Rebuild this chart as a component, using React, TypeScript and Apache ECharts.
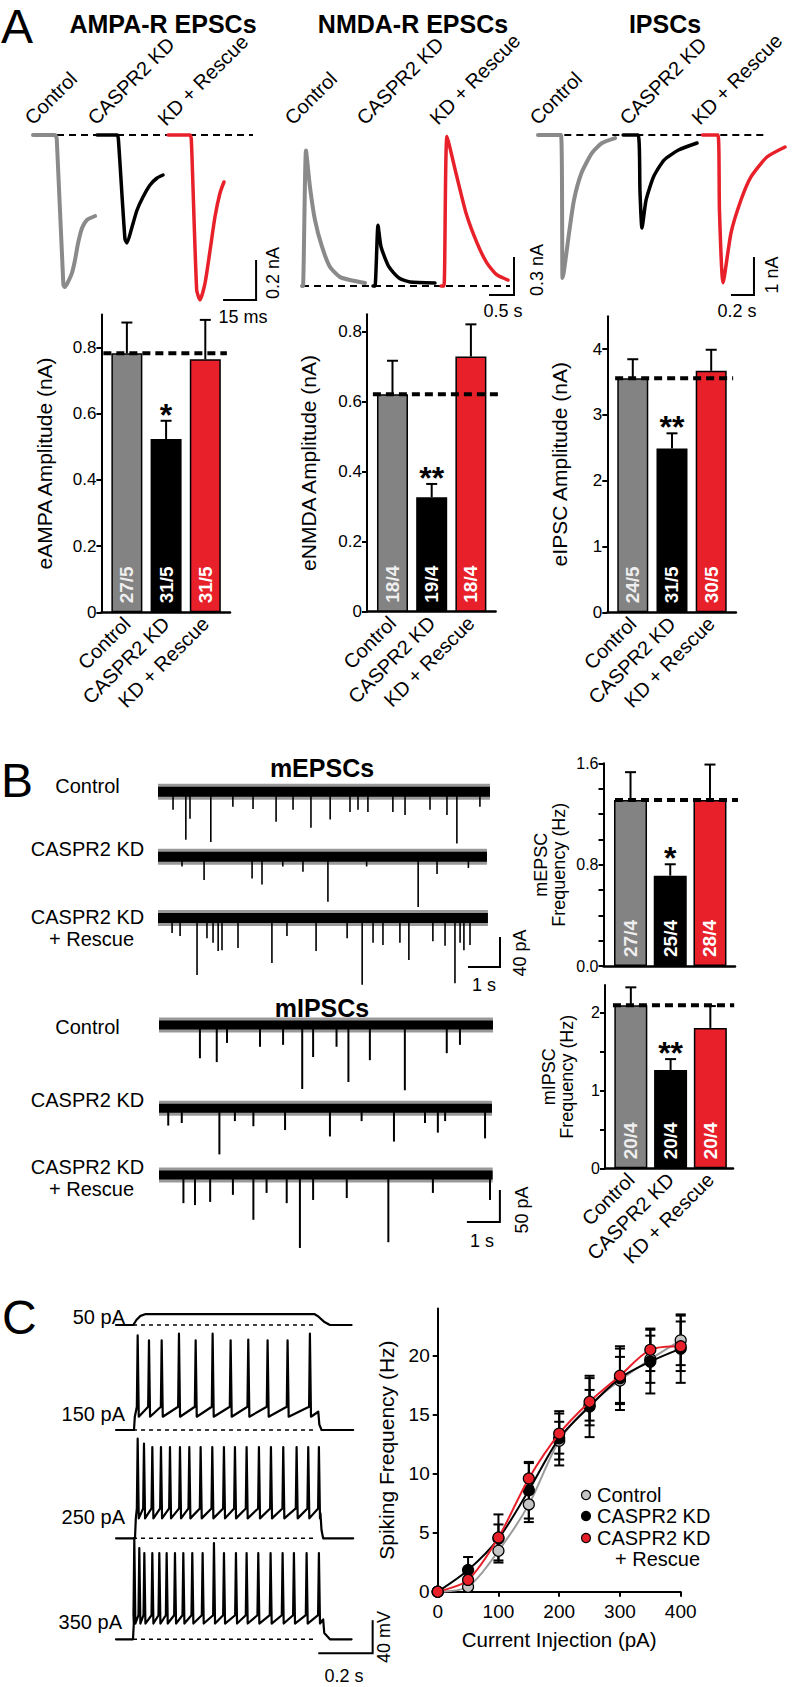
import React, { useEffect, useRef } from "react";
import * as echarts from "echarts";

const FONT = "'Liberation Sans', Arial, Helvetica, sans-serif";
const GRAY = "#838383";
const RED = "#e8202a";
const BLACK = "#000000";
const GROUP_COLORS = [GRAY, BLACK, RED];
const BAR_LABEL_COLORS = ["#eeeeee", "#ffffff", "#ffffff"];

const groups = ["Control", "CASPR2 KD", "KD + Rescue"];

// ---------- Panel A bar data ----------
const eampaMean = [0.783, 0.524, 0.765];
const eampaSem = [0.093, 0.055, 0.119];
const eampaN = ["27/5", "31/5", "31/5"];
const eampaSig = ["", "*", ""];

const enmdaMean = [0.621, 0.327, 0.729];
const enmdaSem = [0.096, 0.038, 0.092];
const enmdaN = ["18/4", "19/4", "18/4"];
const enmdaSig = ["", "**", ""];

const eipscMean = [3.556, 2.49, 3.67];
const eipscSem = [0.29, 0.23, 0.32];
const eipscN = ["24/5", "31/5", "30/5"];
const eipscSig = ["", "**", ""];

// ---------- Panel B bar data ----------
const mepscMean = [1.31, 0.713, 1.31];
const mepscSem = [0.22, 0.09, 0.28];
const mepscN = ["27/4", "25/4", "28/4"];
const mepscSig = ["", "*", ""];

const mipscMean = [2.09, 1.26, 1.8];
const mipscSem = [0.23, 0.14, 0.28];
const mipscN = ["20/4", "20/4", "20/4"];
const mipscSig = ["", "**", ""];

// ---------- Panel A example traces ----------
// AMPA: [time ms, current nA]
const ampaControl = [[0, 0], [10, 0], [10.8, -0.02], [13.8, -0.75], [14.5, -0.76], [15.9, -0.735], [17.7, -0.69], [19.1, -0.625], [20.5, -0.54], [22.3, -0.465], [24.5, -0.425], [28.2, -0.405]];
const ampaKD = [[29.1, 0], [38.2, 0], [38.8, -0.02], [41.8, -0.52], [42.7, -0.54], [45, -0.46], [47.3, -0.375], [50, -0.31], [53.2, -0.25], [56.4, -0.215], [59.1, -0.2]];
const ampaRescue = [[61.4, 0], [71.4, 0], [72, -0.03], [74.4, -0.775], [75.9, -0.825], [78.2, -0.74], [80.5, -0.575], [82.7, -0.41], [85, -0.29], [86.8, -0.235]];
// NMDA: [time s, current nA (outward)]
const nmdaControl = [[0, 0], [0.02, 0], [0.08, 1.07], [0.16, 0.78], [0.26, 0.52], [0.4, 0.31], [0.56, 0.15], [0.76, 0.071], [0.96, 0.047], [1.26, 0.024]];
const nmdaKD = [[1.42, 0], [1.46, 0], [1.52, 0.48], [1.58, 0.31], [1.74, 0.15], [1.94, 0.063], [2.16, 0.032], [2.66, 0.024]];
const nmdaRescue = [[2.78, 0], [2.84, 0], [2.9, 1.18], [3.08, 0.89], [3.28, 0.576], [3.5, 0.34], [3.7, 0.18], [3.9, 0.087], [4.12, 0.047]];
// IPSC: [time s, current nA]
const ipscControl = [[0, 0], [0.2, 0], [0.213, -3.76], [0.225, -3.6], [0.27, -2.58], [0.313, -1.71], [0.378, -1.0], [0.47, -0.47], [0.557, -0.21], [0.67, -0.08]];
const ipscKD = [[0.74, 0], [0.87, 0], [0.887, -1.5], [0.904, -2.45], [0.94, -1.71], [1.005, -1.1], [1.096, -0.66], [1.226, -0.39], [1.383, -0.21]];
const ipscRescue = [[1.43, 0], [1.565, 0], [1.578, -2], [1.609, -3.89], [1.678, -2.58], [1.765, -1.71], [1.852, -1.1], [1.991, -0.58], [2.148, -0.316]];

// ---------- Panel B miniature events: [time s, amplitude pA] ----------
const mepscCtlEvents = [[0.47, 24], [0.87, 64], [1.0, 36], [1.65, 67], [2.34, 20], [2.97, 23], [3.69, 40], [4.22, 24], [4.78, 48], [5.38, 37], [6.0, 27], [6.25, 24], [6.56, 27], [7.34, 27], [7.72, 31], [8.5, 24], [9.03, 31], [9.34, 69], [10.06, 20]];
const mepscKdEvents = [[0.75, 13], [1.44, 31], [2.94, 29], [3.25, 37], [3.9, 13], [4.53, 20], [5.31, 60], [6.52, 13], [8.13, 67], [8.72, 23], [9.7, 15]];
const mepscResEvents = [[0.44, 20], [0.69, 24], [1.22, 76], [1.53, 27], [1.72, 33], [1.88, 44], [2.0, 43], [2.5, 40], [3.56, 60], [4.03, 24], [4.94, 44], [5.91, 27], [6.38, 89], [6.72, 33], [7.03, 36], [7.56, 33], [7.84, 56], [8.59, 31], [8.97, 37], [9.28, 87], [9.44, 33], [9.56, 43], [9.75, 36]];
const mepscDur = [10.375, 10.28, 10.31];

const mipscCtlEvents = [[1.24, 52], [1.75, 58], [2.06, 28], [3.06, 34], [3.76, 31], [4.34, 100], [4.67, 50], [5.38, 34], [5.74, 89], [6.39, 55], [7.45, 102], [8.72, 44], [9.12, 31]];
const mipscKdEvents = [[0.28, 27], [0.69, 23], [1.83, 72], [2.3, 20], [2.86, 28], [3.82, 34], [5.18, 44], [6.14, 20], [7.12, 52], [8.06, 23], [8.45, 38], [8.67, 20], [9.88, 47]];
const mipscResEvents = [[0.74, 44], [1.09, 47], [1.55, 42], [2.24, 31], [2.86, 70], [3.26, 28], [3.87, 44], [4.27, 114], [4.67, 39], [5.69, 36], [6.95, 105], [8.3, 28], [10.03, 39]];
const mipscDur = [10.12, 10.09, 10.11];

// ---------- Panel C firing ----------
const currents = [0, 50, 100, 150, 200, 250, 300, 350, 400];
const ctlRate = [0, 0.42, 3.47, 7.4, 12.8, 15.8, 17.9, 19.7, 21.3];
const kdRate = [0, 1.84, 4.5, 8.6, 13.0, 15.7, 18.1, 19.5, 20.6];
const resRate = [0, 1.0, 4.6, 9.6, 13.4, 16.1, 18.3, 20.5, 20.8];
const ctlRateSem = [0, 0.4, 1.0, 1.5, 1.6, 1.3, 2.0, 2.0, 2.1];
const kdRateSem = [0, 1.1, 1.2, 2.4, 2.3, 2.6, 2.7, 2.7, 2.9];
const resRateSem = [0, 0.6, 1.95, 1.3, 1.7, 2.0, 2.3, 1.8, 2.1];

// Example voltage traces: time s, mV relative to rest
const ap50 = [[0, 0], [0.0636, 0], [0.075, 6], [0.09, 11], [0.107, 13], [0.731, 13], [0.745, 10], [0.765, 4], [0.787, 0], [0.8665, 0]];
const ap150 = { on: 0.0662, off: 0.744, back: 0.756, end: 0.8725, trough: 16, thr: 28,
  times: [0.0797, 0.1213, 0.168, 0.2316, 0.293, 0.3554, 0.4216, 0.4865, 0.5576, 0.6311, 0.7132],
  peaks: [114, 108, 108, 116, 108, 116, 108, 109, 108, 108, 116] };
const ap250 = { on: 0.0699, off: 0.752, back: 0.762, end: 0.8725, trough: 24, thr: 36,
  times: [0.0797, 0.1029, 0.1336, 0.1654, 0.1985, 0.2353, 0.2696, 0.3113, 0.3542, 0.397, 0.4375, 0.4804, 0.5257, 0.5699, 0.6152, 0.6643, 0.7071, 0.7463],
  peaks: [120, 114, 110, 110, 110, 110, 110, 110, 110, 110, 110, 110, 110, 110, 110, 110, 110, 110] };
const ap350 = { on: 0.0625, off: 0.762, back: 0.787, end: 0.8665, trough: 19, thr: 29,
  times: [0.0673, 0.0857, 0.1042, 0.1336, 0.1593, 0.1863, 0.2169, 0.2476, 0.2806, 0.3186, 0.3603, 0.3971, 0.4412, 0.4804, 0.5233, 0.5686, 0.6128, 0.6544, 0.7011, 0.7463],
  peaks: [122, 110, 104, 104, 104, 104, 104, 104, 104, 104, 116, 104, 104, 104, 104, 104, 104, 104, 104, 104] };

function spikeTrain(c: any) {
  const pts: number[][] = [[0, 0], [c.on, 0], [c.on + 0.003, c.trough]];
  c.times.forEach((t: number, i: number) => {
    pts.push([t - 0.003, c.thr]);
    pts.push([t, c.peaks[i]]);
    pts.push([t + 0.004, c.trough]);
  });
  pts.push([c.off, (c.thr + c.trough) / 2]);
  pts.push([c.off + 0.004, c.trough * 0.4]);
  pts.push([c.back, 0]);
  pts.push([c.end, 0]);
  return pts;
}

function buildOption() {
  const o: any = {
    animation: false,
    backgroundColor: "#ffffff",
    textStyle: { fontFamily: FONT },
    grid: [], xAxis: [], yAxis: [], series: [],
    graphic: { elements: [] as any[] },
  };

  const addTraceGrid = (left: number, top: number, width: number, height: number, xmin: number, xmax: number, ymin: number, ymax: number) => {
    const i = o.grid.length;
    o.grid.push({ left, top, width, height, containLabel: false, outerBoundsMode: "none" });
    o.xAxis.push({ gridIndex: i, type: "value", min: xmin, max: xmax, show: false });
    o.yAxis.push({ gridIndex: i, type: "value", min: ymin, max: ymax, show: false });
    return i;
  };

  const line = (gi: number, data: number[][], color: string, width: number, extra: any = {}) => {
    o.series.push({
      type: "line", xAxisIndex: gi, yAxisIndex: gi, data, symbol: "none", silent: true,
      lineStyle: { color, width, cap: "round", join: "round" }, clip: false, z: 3, ...extra,
    });
  };
  const dashed = (gi: number, data: number[][], width: number, dash: number[]) => {
    o.series.push({
      type: "line", xAxisIndex: gi, yAxisIndex: gi, data, symbol: "none", silent: true,
      lineStyle: { color: BLACK, width, type: dash }, clip: false, z: 2,
    });
  };
  const scaleBar = (gi: number, x0: number, y0: number, dx: number, dy: number) => {
    line(gi, [[x0, y0], [x0 + dx, y0], [x0 + dx, y0 + dy]], BLACK, 2, { lineStyle: { color: BLACK, width: 2, cap: "butt", join: "miter" } });
  };
  const txt = (text: string, x: number, y: number, opt: any = {}) => {
    const align = opt.align || "center";
    const va = opt.va || "middle";
    o.graphic.elements.push({
      type: "text", x, y, rotation: opt.rot || 0, silent: true, z: 10,
      style: {
        text, fill: opt.color || BLACK, fontSize: opt.size || 20, fontWeight: opt.weight || "normal",
        fontFamily: FONT, align, verticalAlign: va, textAlign: align, textVerticalAlign: va,
      },
    });
  };

  // ---------------- Panel A traces ----------------
  const gA1 = addTraceGrid(33, 125, 231, 190, 0, 105, -0.9, 0.05);
  dashed(gA1, [[0, 0], [100, 0]], 2, [7, 5]);
  line(gA1, ampaControl, "#8a8a8a", 4, { smooth: 0.2 });
  line(gA1, ampaKD, BLACK, 3.5, { smooth: 0.2 });
  line(gA1, ampaRescue, RED, 3.5, { smooth: 0.2 });
  scaleBar(gA1, 86.4, -0.825, 15, 0.2);

  const gA2 = addTraceGrid(302, 121.3, 220, 183.7, 0, 4.4, -0.15, 1.3);
  dashed(gA2, [[0, 0], [4.16, 0]], 2, [7, 5]);
  line(gA2, nmdaControl, "#8a8a8a", 4, { smooth: 0.2 });
  line(gA2, nmdaKD, BLACK, 3.5, { smooth: 0.2 });
  line(gA2, nmdaRescue, RED, 3.5, { smooth: 0.2 });
  scaleBar(gA2, 3.74, -0.071, 0.5, 0.3);

  const gA3 = addTraceGrid(538, 123.6, 264.5, 182.4, 0, 2.3, -4.5, 0.3);
  dashed(gA3, [[0.02, 0], [1.96, 0]], 2, [7, 5]);
  line(gA3, ipscControl, "#8a8a8a", 4, { smooth: 0.2 });
  line(gA3, ipscKD, BLACK, 3.5, { smooth: 0.2 });
  line(gA3, ipscRescue, RED, 3.5, { smooth: 0.2 });
  scaleBar(gA3, 1.678, -4.21, 0.2, 1);

  // ---------------- Bar charts ----------------
  const addBarChart = (c: any) => {
    const gi = o.grid.length;
    o.grid.push({ left: c.left, top: c.top, width: c.width, height: c.height, containLabel: false, outerBoundsMode: "none" });
    o.xAxis.push({
      gridIndex: gi, type: "value", min: c.xmin, max: c.xmax,
      axisLine: { show: true, onZero: false, lineStyle: { color: BLACK, width: 2.5 } },
      axisTick: { show: false }, splitLine: { show: false },
      axisLabel: c.showCats ? {
        show: true, customValues: [0, 1, 2], formatter: (v: number) => groups[Math.round(v)] || "",
        rotate: 45, fontSize: 20, color: BLACK, fontFamily: FONT, margin: 8,
      } : { show: false },
    });
    o.yAxis.push({
      gridIndex: gi, type: "value", min: 0, max: c.ymax, interval: c.step,
      axisLine: { show: true, onZero: false, lineStyle: { color: BLACK, width: 2 } },
      axisTick: { show: true, inside: false, length: 5, lineStyle: { color: BLACK, width: 2 }, customValues: c.ticks },
      axisLabel: { show: true, customValues: c.labels, formatter: c.fmt, fontSize: c.tickSize, color: BLACK, fontFamily: FONT, margin: 5 },
      splitLine: { show: false },
      name: c.name, nameLocation: "middle", nameGap: c.nameGap,
      nameTextStyle: { fontSize: c.nameSize, color: BLACK, fontFamily: FONT, lineHeight: c.nameSize },
    });
    o.series.push({
      type: "bar", xAxisIndex: gi, yAxisIndex: gi, barWidth: c.barWidth, silent: true, z: 2,
      data: c.means.map((m: number, i: number) => ({
        value: [i, m],
        itemStyle: { color: GROUP_COLORS[i], borderColor: BLACK, borderWidth: 1.5 },
        label: { color: BAR_LABEL_COLORS[i] },
      })),
      label: {
        show: true, position: "insideBottom", rotate: 90, align: "left", verticalAlign: "middle", distance: 9,
        formatter: (p: any) => c.counts[p.dataIndex], fontSize: 19, fontWeight: "bold", fontFamily: FONT, color: "#fff",
      },
    });
    const sigs = c.sig;
    o.series.push({
      type: "custom", xAxisIndex: gi, yAxisIndex: gi, silent: true, z: 4,
      data: c.means.map((m: number, i: number) => [i, m, c.sems[i]]),
      renderItem: (params: any, api: any) => {
        const x = api.value(0), m = api.value(1), s = api.value(2);
        const p0 = api.coord([x, m]);
        const p1 = api.coord([x, m + s]);
        const children: any[] = [
          { type: "line", shape: { x1: p0[0], y1: p0[1], x2: p1[0], y2: p1[1] }, style: { stroke: BLACK, lineWidth: 2 } },
          { type: "line", shape: { x1: p1[0] - 5.5, y1: p1[1], x2: p1[0] + 5.5, y2: p1[1] }, style: { stroke: BLACK, lineWidth: 2 } },
        ];
        const sg = sigs[params.dataIndex];
        if (sg) {
          children.push({
            type: "text", x: p1[0], y: p1[1] - 6,
            style: { text: sg, fontSize: 32, fontWeight: "bold", fontFamily: FONT, fill: BLACK, align: "center", verticalAlign: "middle", textAlign: "center", textVerticalAlign: "middle" },
          });
        }
        return { type: "group", children };
      },
    });
    o.series.push({
      type: "line", xAxisIndex: gi, yAxisIndex: gi, symbol: "none", silent: true, clip: false, z: 5,
      data: [[c.dash[0], c.means[0]], [c.dash[1], c.means[0]]],
      lineStyle: { color: BLACK, width: 4, type: [8, 5] },
    });
  };

  const fmt1 = (v: number) => (v === 0 ? "0" : v.toFixed(1));
  addBarChart({ left: 101.4, top: 314.6, width: 128.6, height: 297.7, xmin: -0.65, xmax: 2.63, ymax: 0.9, step: 0.2,
    ticks: [0, 0.2, 0.4, 0.6, 0.8], labels: [0, 0.2, 0.4, 0.6, 0.8], fmt: fmt1, tickSize: 17,
    name: "eAMPA Amplitude (nA)", nameGap: 46, nameSize: 21, barWidth: 31, showCats: true,
    means: eampaMean, sems: eampaSem, counts: eampaN, sig: eampaSig, dash: [-0.6, 2.55] });
  addBarChart({ left: 367, top: 314.2, width: 128.6, height: 297.5, xmin: -0.65, xmax: 2.63, ymax: 0.85, step: 0.2,
    ticks: [0, 0.2, 0.4, 0.6, 0.8], labels: [0, 0.2, 0.4, 0.6, 0.8], fmt: fmt1, tickSize: 17,
    name: "eNMDA Amplitude (nA)", nameGap: 48, nameSize: 21, barWidth: 31, showCats: true,
    means: enmdaMean, sems: enmdaSem, counts: enmdaN, sig: enmdaSig, dash: [-0.5, 2.75] });
  addBarChart({ left: 607.3, top: 316.2, width: 128.6, height: 296.1, xmin: -0.65, xmax: 2.63, ymax: 4.5, step: 1,
    ticks: [0, 1, 2, 3, 4], labels: [0, 1, 2, 3, 4], fmt: (v: number) => String(v), tickSize: 17,
    name: "eIPSC Amplitude (nA)", nameGap: 37, nameSize: 21, barWidth: 31, showCats: true,
    means: eipscMean, sems: eipscSem, counts: eipscN, sig: eipscSig, dash: [-0.45, 2.56] });
  addBarChart({ left: 603.5, top: 763.3, width: 131.5, height: 202.7, xmin: -0.68, xmax: 2.63, ymax: 1.6, step: 0.2,
    ticks: [0, 0.2, 0.4, 0.6, 0.8, 1.0, 1.2, 1.4, 1.6], labels: [0, 0.8, 1.6], fmt: (v: number) => v.toFixed(1), tickSize: 16,
    name: "mEPSC\nFrequency (Hz)", nameGap: 36, nameSize: 18, barWidth: 33, showCats: false,
    means: mepscMean, sems: mepscSem, counts: mepscN, sig: mepscSig, dash: [-0.39, 2.93] });
  addBarChart({ left: 605, top: 985, width: 128, height: 183.3, xmin: -0.65, xmax: 2.57, ymax: 2.35, step: 0.5,
    ticks: [0, 0.5, 1, 1.5, 2], labels: [0, 1, 2], fmt: (v: number) => String(v), tickSize: 16,
    name: "mIPSC\nFrequency (Hz)", nameGap: 29, nameSize: 18, barWidth: 33, showCats: true,
    means: mipscMean, sems: mipscSem, counts: mipscN, sig: mipscSig, dash: [-0.45, 2.6] });

  // ---------------- Panel B traces ----------------
  const minis = (gi: number, dur: number, events: number[][], band: number, w: number) => {
    // soft noise fringe + dense core of the recording
    line(gi, [[0, 0], [dur, 0]], BLACK, band + 6, { lineStyle: { color: BLACK, width: band + 6, cap: "butt", opacity: 0.4 } });
    line(gi, [[0, 0], [dur, 0]], BLACK, band, { lineStyle: { color: BLACK, width: band, cap: "butt" } });
    o.series.push({
      type: "custom", xAxisIndex: gi, yAxisIndex: gi, silent: true, z: 4, clip: false,
      data: events,
      renderItem: (_p: any, api: any) => {
        const t = api.value(0), a = api.value(1);
        const p0 = api.coord([t, 0]);
        const p1 = api.coord([t, -a]);
        return { type: "line", shape: { x1: p0[0], y1: p0[1], x2: p1[0], y2: p1[1] }, style: { stroke: BLACK, lineWidth: w } };
      },
    });
  };
  const rowsE = [791.7, 856.7, 918];
  const evE = [mepscCtlEvents, mepscKdEvents, mepscResEvents];
  let lastE = 0;
  rowsE.forEach((cy, k) => {
    const gi = addTraceGrid(158, cy - 15, 344, 90, 0, 10.75, -100, 20);
    minis(gi, mepscDur[k], evE[k], 10, 1.6);
    lastE = gi;
  });
  scaleBar(lastE, 9.6875, -65.3, 1, 40);

  const rowsI = [1025, 1108.3, 1175];
  const evI = [mipscCtlEvents, mipscKdEvents, mipscResEvents];
  let lastI = 0;
  rowsI.forEach((cy, k) => {
    const gi = addTraceGrid(159, cy - 12.8, 346.5, 96, 0, 10.5, -130, 20);
    minis(gi, mipscDur[k], evI[k], 9, 2);
    lastI = gi;
  });
  scaleBar(lastI, 9.33, -73.4, 1, 50);

  // ---------------- Panel C traces ----------------
  const apRows = [1325, 1430, 1538.3, 1639.3];
  const apData = [ap50, spikeTrain(ap150), spikeTrain(ap250), spikeTrain(ap350)];
  let lastC = 0;
  apRows.forEach((base, k) => {
    const gi = addTraceGrid(116, base - 130 * 0.83, 261, 124.5, 0, 0.96, -20, 130);
    dashed(gi, [[0.0625, 0], [0.739, 0]], 1.6, [4, 4]);
    line(gi, apData[k], BLACK, 2.2);
    lastC = gi;
  });
  scaleBar(lastC, 0.744, -16.9, 0.2, 40);

  // ---------------- Panel C F-I plot ----------------
  const gF = o.grid.length;
  o.grid.push({ left: 437.7, top: 1308.5, width: 243, height: 283.2, containLabel: false, outerBoundsMode: "none" });
  o.xAxis.push({
    gridIndex: gF, type: "value", min: 0, max: 400, interval: 100,
    axisLine: { show: true, onZero: false, lineStyle: { color: BLACK, width: 2 } },
    axisTick: { show: true, length: 5, lineStyle: { color: BLACK, width: 2 } },
    axisLabel: { fontSize: 19, color: BLACK, fontFamily: FONT, margin: 10 },
    splitLine: { show: false },
    name: "Current Injection (pA)", nameLocation: "middle", nameGap: 37,
    nameTextStyle: { fontSize: 20.5, color: BLACK, fontFamily: FONT },
  });
  o.yAxis.push({
    gridIndex: gF, type: "value", min: 0, max: 24, interval: 5,
    axisLine: { show: true, onZero: false, lineStyle: { color: BLACK, width: 2 } },
    axisTick: { show: true, length: 5, lineStyle: { color: BLACK, width: 2 }, customValues: [0, 5, 10, 15, 20] },
    axisLabel: { fontSize: 19, color: BLACK, fontFamily: FONT, margin: 8, customValues: [0, 5, 10, 15, 20] },
    splitLine: { show: false },
    name: "Spiking Frequency (Hz)", nameLocation: "middle", nameGap: 41,
    nameTextStyle: { fontSize: 21, color: BLACK, fontFamily: FONT },
  });
  const fiSets = [
    { rate: ctlRate, sem: ctlRateSem, line: "#9a9a9a", fill: "#c4c4c4" },
    { rate: kdRate, sem: kdRateSem, line: BLACK, fill: BLACK },
    { rate: resRate, sem: resRateSem, line: RED, fill: RED },
  ];
  fiSets.forEach((s) => {
    o.series.push({
      type: "custom", xAxisIndex: gF, yAxisIndex: gF, silent: true, z: 2, clip: false,
      data: currents.map((c, i) => [c, s.rate[i], s.sem[i]]),
      renderItem: (_p: any, api: any) => {
        const x = api.value(0), y = api.value(1), e = api.value(2);
        if (!e) return { type: "group", children: [] };
        const a = api.coord([x, y + e]);
        const b = api.coord([x, y - e]);
        const st = { stroke: BLACK, lineWidth: 2 };
        return {
          type: "group", children: [
            { type: "line", shape: { x1: a[0], y1: a[1], x2: b[0], y2: b[1] }, style: st },
            { type: "line", shape: { x1: a[0] - 5, y1: a[1], x2: a[0] + 5, y2: a[1] }, style: st },
            { type: "line", shape: { x1: b[0] - 5, y1: b[1], x2: b[0] + 5, y2: b[1] }, style: st },
          ],
        };
      },
    });
  });
  fiSets.forEach((s, k) => {
    o.series.push({
      type: "line", xAxisIndex: gF, yAxisIndex: gF, silent: true, z: 3 + k, clip: false,
      data: currents.map((c, i) => [c, s.rate[i]]),
      smooth: 0.3, symbol: "circle", symbolSize: 11, showSymbol: true,
      lineStyle: { color: s.line, width: 2 },
      itemStyle: { color: s.fill, borderColor: BLACK, borderWidth: 1.2 },
    });
  });

  // ---------------- Texts ----------------
  txt("A", 1, 26, { size: 48, align: "left" });
  txt("AMPA-R EPSCs", 163, 24, { size: 25, weight: "bold" });
  txt("NMDA-R EPSCs", 413, 24, { size: 25, weight: "bold" });
  txt("IPSCs", 665, 24, { size: 25, weight: "bold" });
  const rot45 = { rot: Math.PI / 4, align: "left", va: "bottom", size: 20 };
  [[35, 128], [98, 128], [168, 129], [295, 128], [367, 128], [440, 128], [540, 128], [630, 128], [702, 128]].forEach((p, i) => {
    txt(groups[i % 3], p[0], p[1], rot45);
  });
  txt("0.2 nA", 273, 273, { rot: Math.PI / 2, size: 18 });
  txt("15 ms", 243, 317, { size: 18 });
  txt("0.3 nA", 537, 270, { rot: Math.PI / 2, size: 18 });
  txt("0.5 s", 503, 311, { size: 18 });
  txt("1 nA", 772, 275, { rot: Math.PI / 2, size: 18 });
  txt("0.2 s", 737, 311, { size: 18 });

  txt("B", 1, 780, { size: 48, align: "left" });
  txt("mEPSCs", 322, 768, { size: 25, weight: "bold" });
  txt("mIPSCs", 322, 1008, { size: 25, weight: "bold" });
  txt("Control", 87.5, 786);
  txt("CASPR2 KD", 87.5, 848.5);
  txt("CASPR2 KD", 87.5, 916.5);
  txt("+ Rescue", 91.5, 938.5);
  txt("Control", 87.5, 1027);
  txt("CASPR2 KD", 87.5, 1100);
  txt("CASPR2 KD", 87.5, 1167);
  txt("+ Rescue", 91.5, 1189);
  txt("40 pA", 520, 953, { rot: Math.PI / 2, size: 18 });
  txt("1 s", 484, 985, { size: 18 });
  txt("50 pA", 522, 1210, { rot: Math.PI / 2, size: 18 });
  txt("1 s", 482, 1241, { size: 18 });

  txt("C", 2, 1317, { size: 48, align: "left" });
  txt("50 pA", 125, 1317, { align: "right" });
  txt("150 pA", 125, 1414, { align: "right" });
  txt("250 pA", 125, 1517, { align: "right" });
  txt("350 pA", 122, 1622, { align: "right" });
  txt("40 mV", 384, 1637, { rot: Math.PI / 2, size: 18 });
  txt("0.2 s", 344, 1676, { size: 18 });

  // legend
  const leg = [
    { y: 1495, fill: "#c4c4c4", label: "Control" },
    { y: 1516, fill: BLACK, label: "CASPR2 KD" },
    { y: 1538, fill: RED, label: "CASPR2 KD" },
  ];
  leg.forEach((l) => {
    o.graphic.elements.push({ type: "circle", silent: true, z: 10, shape: { cx: 586, cy: l.y, r: 4.5 }, style: { fill: l.fill, stroke: BLACK, lineWidth: 1.2 } });
    txt(l.label, 597, l.y, { align: "left" });
  });
  txt("+ Rescue", 615, 1559, { align: "left" });

  return o;
}

export default function App() {
  const ref = useRef<HTMLDivElement>(null);
  useEffect(() => {
    if (!ref.current) return;
    const chart = echarts.init(ref.current, null, { renderer: "svg", width: 803, height: 1687 });
    chart.setOption(buildOption());
    return () => chart.dispose();
  }, []);
  return (
    <div
      ref={ref}
      style={{ position: "absolute", left: 0, top: 0, width: 803, height: 1687, background: "#ffffff" }}
    />
  );
}
